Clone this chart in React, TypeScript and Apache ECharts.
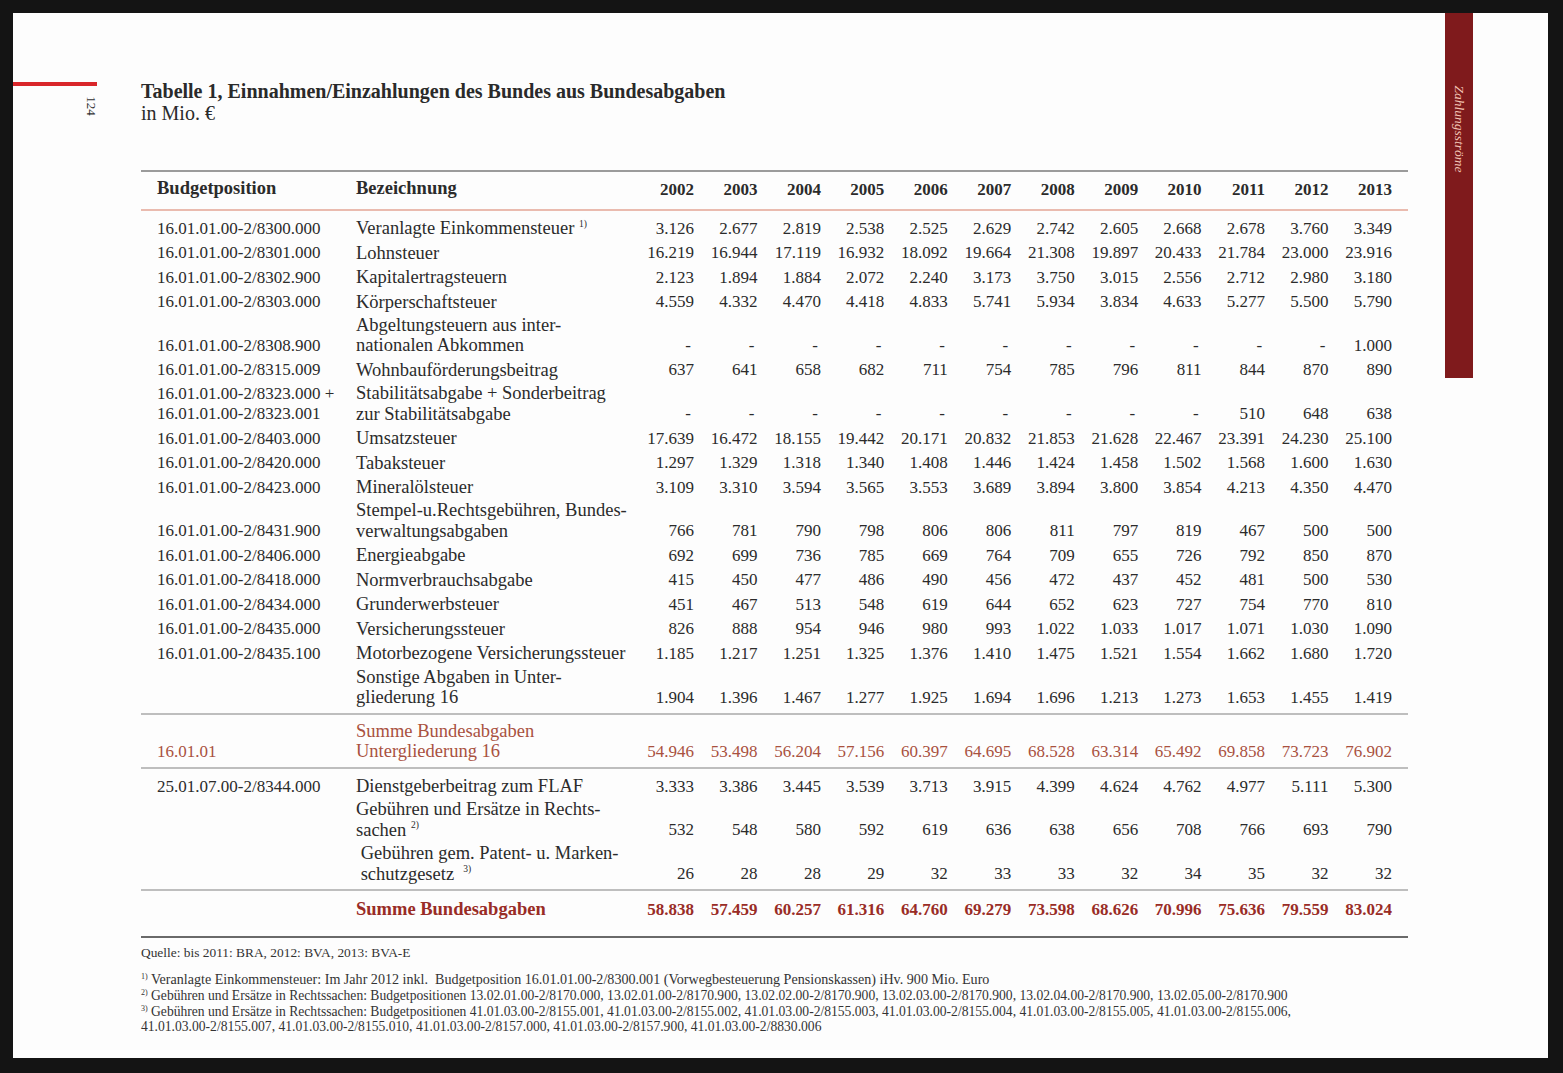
import React, { useEffect, useRef } from "react";
import * as echarts from "echarts";

// ---------------- DATA ----------------
const years = ["2002", "2003", "2004", "2005", "2006", "2007", "2008", "2009", "2010", "2011", "2012", "2013"];

const budgetPositions: string[][] = [
  ["16.01.01.00-2/8300.000"],
  ["16.01.01.00-2/8301.000"],
  ["16.01.01.00-2/8302.900"],
  ["16.01.01.00-2/8303.000"],
  ["16.01.01.00-2/8308.900"],
  ["16.01.01.00-2/8315.009"],
  ["16.01.01.00-2/8323.000 +", "16.01.01.00-2/8323.001"],
  ["16.01.01.00-2/8403.000"],
  ["16.01.01.00-2/8420.000"],
  ["16.01.01.00-2/8423.000"],
  ["16.01.01.00-2/8431.900"],
  ["16.01.01.00-2/8406.000"],
  ["16.01.01.00-2/8418.000"],
  ["16.01.01.00-2/8434.000"],
  ["16.01.01.00-2/8435.000"],
  ["16.01.01.00-2/8435.100"],
  [],
];

const designations: string[][] = [
  ["Veranlagte Einkommensteuer {sup|1)}"],
  ["Lohnsteuer"],
  ["Kapitalertragsteuern"],
  ["Körperschaftsteuer"],
  ["Abgeltungsteuern aus inter-", "nationalen Abkommen"],
  ["Wohnbauförderungsbeitrag"],
  ["Stabilitätsabgabe + Sonderbeitrag", "zur Stabilitätsabgabe"],
  ["Umsatzsteuer"],
  ["Tabaksteuer"],
  ["Mineralölsteuer"],
  ["Stempel-u.Rechtsgebühren, Bundes-", "verwaltungsabgaben"],
  ["Energieabgabe"],
  ["Normverbrauchsabgabe"],
  ["Grunderwerbsteuer"],
  ["Versicherungssteuer"],
  ["Motorbezogene Versicherungssteuer"],
  ["Sonstige Abgaben in Unter-", "gliederung 16"],
];

const values: (number | null)[][] = [
  [3126, 2677, 2819, 2538, 2525, 2629, 2742, 2605, 2668, 2678, 3760, 3349],
  [16219, 16944, 17119, 16932, 18092, 19664, 21308, 19897, 20433, 21784, 23000, 23916],
  [2123, 1894, 1884, 2072, 2240, 3173, 3750, 3015, 2556, 2712, 2980, 3180],
  [4559, 4332, 4470, 4418, 4833, 5741, 5934, 3834, 4633, 5277, 5500, 5790],
  [null, null, null, null, null, null, null, null, null, null, null, 1000],
  [637, 641, 658, 682, 711, 754, 785, 796, 811, 844, 870, 890],
  [null, null, null, null, null, null, null, null, null, 510, 648, 638],
  [17639, 16472, 18155, 19442, 20171, 20832, 21853, 21628, 22467, 23391, 24230, 25100],
  [1297, 1329, 1318, 1340, 1408, 1446, 1424, 1458, 1502, 1568, 1600, 1630],
  [3109, 3310, 3594, 3565, 3553, 3689, 3894, 3800, 3854, 4213, 4350, 4470],
  [766, 781, 790, 798, 806, 806, 811, 797, 819, 467, 500, 500],
  [692, 699, 736, 785, 669, 764, 709, 655, 726, 792, 850, 870],
  [415, 450, 477, 486, 490, 456, 472, 437, 452, 481, 500, 530],
  [451, 467, 513, 548, 619, 644, 652, 623, 727, 754, 770, 810],
  [826, 888, 954, 946, 980, 993, 1022, 1033, 1017, 1071, 1030, 1090],
  [1185, 1217, 1251, 1325, 1376, 1410, 1475, 1521, 1554, 1662, 1680, 1720],
  [1904, 1396, 1467, 1277, 1925, 1694, 1696, 1213, 1273, 1653, 1455, 1419],
];

const subtotalCode = "16.01.01";
const subtotalLabel = ["Summe Bundesabgaben", "Untergliederung 16"];
const subtotalValues = [54946, 53498, 56204, 57156, 60397, 64695, 68528, 63314, 65492, 69858, 73723, 76902];

const otherCodes: string[][] = [["25.01.07.00-2/8344.000"], [], []];
const otherLabels: string[][] = [
  ["Dienstgeberbeitrag zum FLAF"],
  ["Gebühren und Ersätze in Rechts-", "sachen {sup|2)}"],
  [" Gebühren gem. Patent- u. Marken-", " schutzgesetz  {sup|3)}"],
];
const otherValues: number[][] = [
  [3333, 3386, 3445, 3539, 3713, 3915, 4399, 4624, 4762, 4977, 5111, 5300],
  [532, 548, 580, 592, 619, 636, 638, 656, 708, 766, 693, 790],
  [26, 28, 28, 29, 32, 33, 33, 32, 34, 35, 32, 32],
];

const totalLabel = "Summe Bundesabgaben";
const totalValues = [58838, 57459, 60257, 61316, 64760, 69279, 73598, 68626, 70996, 75636, 79559, 83024];

const titleText = "Tabelle 1, Einnahmen/Einzahlungen des Bundes aus Bundesabgaben";
const subtitleText = "in Mio. €";
const headerCode = "Budgetposition";
const headerLabel = "Bezeichnung";
const sourceText = "Quelle: bis 2011: BRA, 2012: BVA, 2013: BVA-E";
const footnoteLines = [
  "{sup|1)} Veranlagte Einkommensteuer: Im Jahr 2012 inkl.  Budgetposition 16.01.01.00-2/8300.001 (Vorwegbesteuerung Pensionskassen) iHv. 900 Mio. Euro",
  "{sup|2)} Gebühren und Ersätze in Rechtssachen: Budgetpositionen 13.02.01.00-2/8170.000, 13.02.01.00-2/8170.900, 13.02.02.00-2/8170.900, 13.02.03.00-2/8170.900, 13.02.04.00-2/8170.900, 13.02.05.00-2/8170.900",
  "{sup|3)} Gebühren und Ersätze in Rechtssachen: Budgetpositionen 41.01.03.00-2/8155.001, 41.01.03.00-2/8155.002, 41.01.03.00-2/8155.003, 41.01.03.00-2/8155.004, 41.01.03.00-2/8155.005, 41.01.03.00-2/8155.006,",
  "41.01.03.00-2/8155.007, 41.01.03.00-2/8155.010, 41.01.03.00-2/8157.000, 41.01.03.00-2/8157.900, 41.01.03.00-2/8830.006",
];
const pageNumber = "124";
const sectionTab = "Zahlungsströme";

// ---------------- LAYOUT ----------------
const W = 1563;
const H = 1073;
const SERIF = '"Liberation Serif", "Times New Roman", serif';
const INK = "#2b2b2b";
const SUB_RED = "#a9513f";
const TOTAL_RED = "#992c26";

const fmt = (n: number | null) =>
  n == null ? "-" : String(n).replace(/\B(?=(\d{3})+(?!\d))/g, ".");

function txt(x: number, y: number, text: string, o: any = {}) {
  const align = o.align || "left";
  const va = o.va || "middle";
  const fill = o.fill || INK;
  const size = o.size || 18.5;
  return {
    type: "text",
    x,
    y,
    rotation: o.rotation || 0,
    silent: true,
    style: {
      text,
      fill,
      fontSize: size,
      fontFamily: SERIF,
      fontWeight: o.weight || "normal",
      fontStyle: o.italic ? "italic" : "normal",
      textAlign: align,
      textVerticalAlign: va,
      align,
      verticalAlign: va,
      rich: {
        sup: {
          fontSize: o.supSize || 9.5,
          fontFamily: SERIF,
          fill,
          verticalAlign: "top",
        },
      },
    },
  };
}

function hline(y: number, x1: number, x2: number, stroke: string, lw: number) {
  return { type: "line", silent: true, shape: { x1, y1: y, x2, y2: y }, style: { stroke, lineWidth: lw } };
}

function buildGraphics() {
  const g: any[] = [];
  const left = 141;
  const right = 1408;
  const codeX = 157;
  const nameX = 356;
  const valRight = (i: number) => 694 + i * 63.45;
  const pitch = 24.5;
  const extra = 19.25;
  const lineGap = 20.5;

  // page & frame
  g.push({ type: "rect", silent: true, shape: { x: 0, y: 0, width: W, height: H }, style: { fill: "#141414" } });
  g.push({ type: "rect", silent: true, shape: { x: 13, y: 13, width: 1535, height: 1045 }, style: { fill: "#fdfdfd" } });
  // red top-left marker
  g.push({ type: "rect", silent: true, shape: { x: 13, y: 82, width: 84, height: 4 }, style: { fill: "#d9262a" } });
  // page number rotated
  g.push(txt(91, 106, pageNumber, { align: "center", size: 13, rotation: -Math.PI / 2, fill: "#333" }));
  // right tab
  g.push({ type: "rect", silent: true, shape: { x: 1445, y: 13, width: 28, height: 365 }, style: { fill: "#7f1a1c" } });
  g.push(txt(1459, 129, sectionTab, { align: "center", size: 13.5, italic: true, rotation: -Math.PI / 2, fill: "#f2c4b6" }));

  // title
  g.push(txt(141, 91, titleText, { size: 20, weight: "bold", fill: "#2a2a2a" }));
  g.push(txt(141, 113, subtitleText, { size: 20, fill: "#2a2a2a" }));

  // header
  g.push(hline(171, left, right, "#7a7a7a", 1.6));
  g.push(txt(codeX, 188, headerCode, { weight: "bold", size: 18.5 }));
  g.push(txt(nameX, 188, headerLabel, { weight: "bold", size: 18.5 }));
  years.forEach((yr, i) => g.push(txt(valRight(i), 189, yr, { align: "right", weight: "bold", size: 17 })));
  g.push(hline(210, left, right, "#e3a595", 1.6));

  const drawRow = (y: number, codes: string[], labels: string[], vals: (number | null)[], o: any = {}) => {
    codes.forEach((c, k) =>
      g.push(txt(codeX, y - (codes.length - 1 - k) * lineGap, c, { fill: o.fill, weight: o.weight, size: 17 }))
    );
    labels.forEach((l, k) =>
      g.push(txt(nameX, y - (labels.length - 1 - k) * lineGap, l, { fill: o.fill, weight: o.weight }))
    );
    vals.forEach((v, i) =>
      g.push(txt(valRight(i) - (v == null ? 3 : 0), y, fmt(v), { align: "right", size: 17, fill: o.fill, weight: o.weight }))
    );
  };

  let y = 228;
  values.forEach((vals, r) => {
    const lines = Math.max(budgetPositions[r].length, designations[r].length, 1);
    if (r > 0) y += pitch + (lines - 1) * extra;
    drawRow(y, budgetPositions[r], designations[r], vals);
  });

  // subtotal
  const rule1 = y + 17;
  g.push(hline(rule1, left, right, "#a8a8a8", 1.5));
  y = rule1 + 37;
  drawRow(y, [subtotalCode], subtotalLabel, subtotalValues, { fill: SUB_RED });
  const rule2 = y + 17;
  g.push(hline(rule2, left, right, "#a8a8a8", 1.5));

  // other rows
  y = rule2 + 18;
  otherValues.forEach((vals, r) => {
    const lines = Math.max(otherCodes[r].length, otherLabels[r].length, 1);
    if (r > 0) y += pitch + (lines - 1) * extra;
    drawRow(y, otherCodes[r], otherLabels[r], vals);
  });
  const rule3 = y + 16.5;
  g.push(hline(rule3, left, right, "#a8a8a8", 1.5));

  // total
  y = rule3 + 19;
  drawRow(y, [], [totalLabel], totalValues, { fill: TOTAL_RED, weight: "bold" });
  const rule4 = y + 28;
  g.push(hline(rule4, left, right, "#6a6a6a", 2));

  // source & footnotes
  g.push(txt(141, 952, sourceText, { size: 13.4, fill: "#333" }));
  const fnY = [979, 995, 1011, 1026];
  const fnSize = [14.1, 13.6, 13.6, 13.6];
  footnoteLines.forEach((l, i) => g.push(txt(141, fnY[i], l, { size: fnSize[i], fill: "#333", supSize: 8 })));

  return g;
}

export default function App() {
  const ref = useRef<HTMLDivElement>(null);
  useEffect(() => {
    if (!ref.current) return;
    const chart = echarts.init(ref.current, null, { renderer: "svg", width: W, height: H });
    chart.setOption({
      animation: false,
      backgroundColor: "#141414",
      graphic: { elements: buildGraphics() },
    });
    return () => chart.dispose();
  }, []);
  return (
    <div
      ref={ref}
      style={{ position: "absolute", left: 0, top: 0, width: W, height: H }}
    />
  );
}
